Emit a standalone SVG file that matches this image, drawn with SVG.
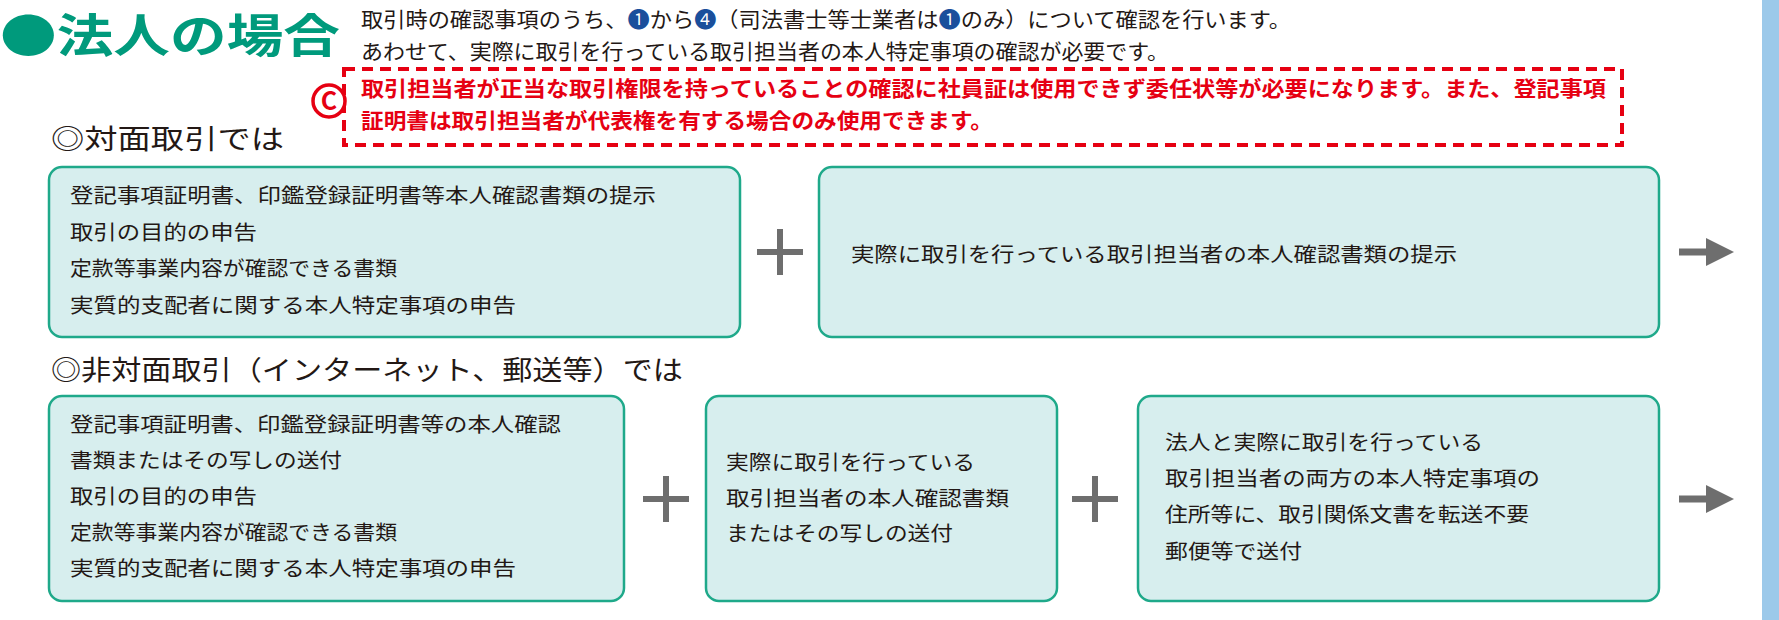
<svg xmlns="http://www.w3.org/2000/svg" width="1779" height="620" viewBox="0 0 1779 620">
<style>
text{font-family:"Noto Sans CJK JP","Noto Sans",sans-serif;}
.t{font-size:21px;fill:#231815;}
.r{font-size:21px;fill:#e60012;font-weight:bold;}
.h{font-size:27px;fill:#231815;}
.b{font-size:20px;fill:#231815;}
.box{fill:#d7eeee;stroke:#1fa98a;stroke-width:2.5;}
.plus{stroke:#6e6e6e;stroke-width:6;}
.n{fill:#1a4f9c;}
</style>
<defs>
<marker id="ah" markerWidth="4" markerHeight="4" refX="1" refY="2" orient="auto" markerUnits="strokeWidth"><path d="M0,0 L4,2 L0,4 z" fill="#6e6e6e"/></marker>
</defs>
<rect width="1779" height="620" fill="#fff"/>
<rect x="1762" y="0" width="17" height="620" fill="#9cc9ea"/>
<g id="title"><text x="0" y="52" font-size="46" font-weight="bold" fill="#009a7c" textLength="340" lengthAdjust="spacingAndGlyphs">●法人の場合</text></g>
<g id="intro">
<text class="t" x="361" y="27" textLength="930" lengthAdjust="spacingAndGlyphs">取引時の確認事項のうち、<tspan class="n">❶</tspan>から<tspan class="n">❹</tspan>（司法書士等士業者は<tspan class="n">❶</tspan>のみ）について確認を行います。</text>
<text class="t" x="361" y="59" textLength="808" lengthAdjust="spacingAndGlyphs">あわせて、実際に取引を行っている取引担当者の本人特定事項の確認が必要です。</text>
</g>
<g id="note">
<rect x="344" y="69" width="1278" height="76" fill="none" stroke="#e60012" stroke-width="4" stroke-dasharray="11,7"/>
<circle cx="329" cy="101" r="16" fill="#fff" stroke="#e60012" stroke-width="3.5"/>
<text x="329" y="110" font-size="25" font-weight="bold" fill="#e60012" text-anchor="middle" font-family="Liberation Sans,sans-serif">C</text>
<text class="r" x="361" y="96" textLength="1245" lengthAdjust="spacingAndGlyphs">取引担当者が正当な取引権限を持っていることの確認に社員証は使用できず委任状等が必要になります。また、登記事項</text>
<text class="r" x="361" y="128" textLength="632" lengthAdjust="spacingAndGlyphs">証明書は取引担当者が代表権を有する場合のみ使用できます。</text>
</g>
<g id="h1"><text class="h" x="51" y="149" textLength="233" lengthAdjust="spacingAndGlyphs">◎対面取引では</text></g>
<g id="box1">
<rect class="box" x="49" y="167" width="691" height="170" rx="13"/>
<text class="b" x="70" y="203" textLength="586" lengthAdjust="spacingAndGlyphs">登記事項証明書、印鑑登録証明書等本人確認書類の提示</text>
<text class="b" x="70" y="240" textLength="187" lengthAdjust="spacingAndGlyphs">取引の目的の申告</text>
<text class="b" x="70" y="276" textLength="327" lengthAdjust="spacingAndGlyphs">定款等事業内容が確認できる書類</text>
<text class="b" x="70" y="313" textLength="446" lengthAdjust="spacingAndGlyphs">実質的支配者に関する本人特定事項の申告</text>
</g>
<g id="box2">
<rect class="box" x="819" y="167" width="840" height="170" rx="13"/>
<text class="b" x="851" y="262" textLength="606" lengthAdjust="spacingAndGlyphs">実際に取引を行っている取引担当者の本人確認書類の提示</text>
</g>
<g id="h2"><text class="h" x="51" y="380" textLength="632" lengthAdjust="spacingAndGlyphs">◎非対面取引（インターネット、郵送等）では</text></g>
<g id="box3">
<rect class="box" x="49" y="396" width="575" height="205" rx="13"/>
<text class="b" x="70" y="432" textLength="491" lengthAdjust="spacingAndGlyphs">登記事項証明書、印鑑登録証明書等の本人確認</text>
<text class="b" x="70" y="468" textLength="272" lengthAdjust="spacingAndGlyphs">書類またはその写しの送付</text>
<text class="b" x="70" y="504" textLength="187" lengthAdjust="spacingAndGlyphs">取引の目的の申告</text>
<text class="b" x="70" y="540" textLength="327" lengthAdjust="spacingAndGlyphs">定款等事業内容が確認できる書類</text>
<text class="b" x="70" y="576" textLength="446" lengthAdjust="spacingAndGlyphs">実質的支配者に関する本人特定事項の申告</text>
</g>
<g id="box4">
<rect class="box" x="706" y="396" width="351" height="205" rx="13"/>
<text class="b" x="726" y="470" textLength="249" lengthAdjust="spacingAndGlyphs">実際に取引を行っている</text>
<text class="b" x="726" y="506" textLength="283" lengthAdjust="spacingAndGlyphs">取引担当者の本人確認書類</text>
<text class="b" x="726" y="541" textLength="227" lengthAdjust="spacingAndGlyphs">またはその写しの送付</text>
</g>
<g id="box5">
<rect class="box" x="1138" y="396" width="521" height="205" rx="13"/>
<text class="b" x="1165" y="450" textLength="318" lengthAdjust="spacingAndGlyphs">法人と実際に取引を行っている</text>
<text class="b" x="1165" y="486" textLength="375" lengthAdjust="spacingAndGlyphs">取引担当者の両方の本人特定事項の</text>
<text class="b" x="1165" y="522" textLength="364" lengthAdjust="spacingAndGlyphs">住所等に、取引関係文書を転送不要</text>
<text class="b" x="1165" y="559" textLength="137" lengthAdjust="spacingAndGlyphs">郵便等で送付</text>
</g>
<g id="connectors">
<path class="plus" d="M757,252 h46 M780,229 v46"/>
<path class="plus" d="M643,499 h46 M666,476 v46"/>
<path class="plus" d="M1072,499 h46 M1095,476 v46"/>
<path d="M1679,252 h34" stroke="#6e6e6e" stroke-width="7" marker-end="url(#ah)"/>
<path d="M1679,499 h34" stroke="#6e6e6e" stroke-width="7" marker-end="url(#ah)"/>
</g>
</svg>
